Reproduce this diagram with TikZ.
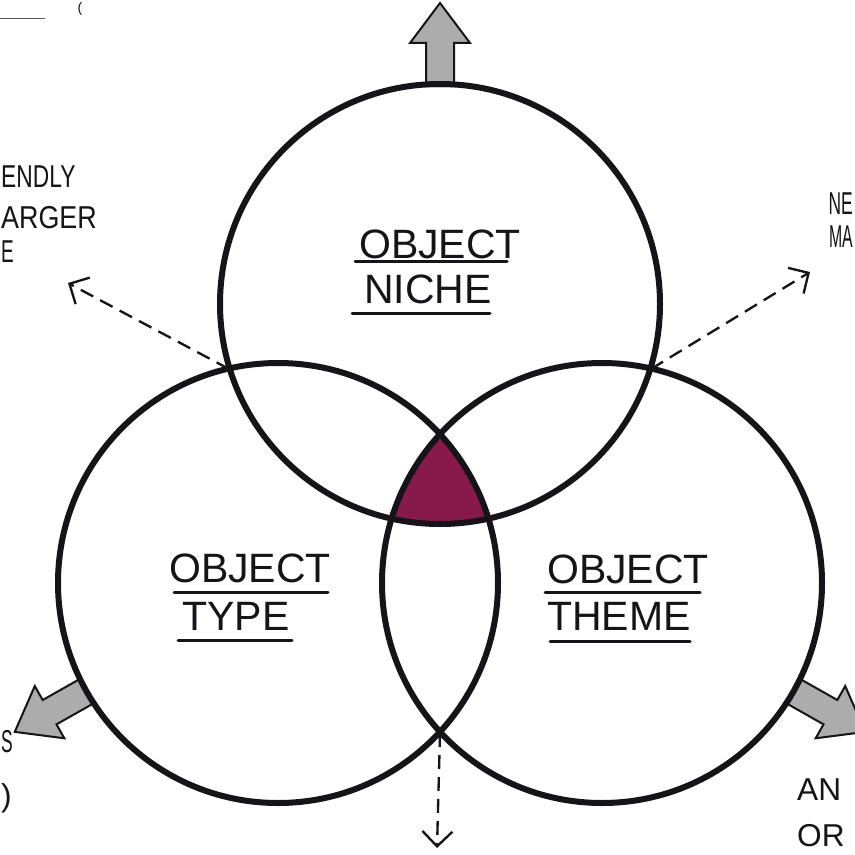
\documentclass[tikz,border=0pt]{standalone}
\usepackage{fontspec}
\setmainfont{Liberation Sans}
\usetikzlibrary{arrows.meta}
\definecolor{core}{RGB}{135,25,75}
\definecolor{arrowgray}{RGB}{172,172,172}
\definecolor{ink}{RGB}{20,20,25}
\begin{document}
\begin{tikzpicture}[x=0.3mm, y=-0.3mm,
  ring/.style={circle, draw=ink, line width=1.8mm, minimum size=132mm, inner sep=0pt, outer sep=0pt},
  lbl/.style={font=\fontsize{35}{40}\selectfont, anchor=base, inner sep=0pt, text=ink},
  frag/.style={font=\fontsize{27}{30}\selectfont, inner sep=0pt, text=ink},
  uline/.style={draw=ink, line width=0.9mm, line cap=round},
  dasharrow/.style={draw=ink, line width=0.7mm, dash pattern=on 4.2mm off 2.4mm,
    -{Straight Barb[length=4.5mm, width=9mm, line width=0.7mm]}},
  blockarrow/.pic={\draw[line width=0.6mm, draw=ink, fill=arrowgray, line join=miter]
    (0,-14) -- (43,-14) -- (43,-30) -- (83,0) -- (43,30) -- (43,14) -- (0,14) -- cycle;}
]
\path[use as bounding box, fill=white] (0,0) rectangle (855,854);
\clip (0,0) rectangle (855,854);

% block arrows (drawn first, circles overlay their bases)
\pic[rotate=90] at (440,86) {blockarrow};
\pic[rotate=209.5] at (87,691) {blockarrow};
\pic[rotate=-29.5] at (793,691) {blockarrow};

% core intersection
\begin{scope}
  \clip (440,304) circle[radius=66mm];
  \clip (278,583) circle[radius=66mm];
  \fill[core] (602,583) circle[radius=66mm];
\end{scope}

% circles
\node[ring] (niche) at (440,304) {};
\node[ring] (type) at (278,583) {};
\node[ring] (theme) at (602,583) {};

% intersection points and dashed arrows
\coordinate (tl) at (229,369);
\coordinate (tlend) at (68,283);
\coordinate (tr) at (651,369);
\coordinate (trend) at (810,272);
\coordinate (bt) at (440,733);
\coordinate (btend) at (437,848);
\draw[dasharrow] (tl) -- (tlend);
\draw[dasharrow] (tr) -- (trend);
\draw[dasharrow] (bt) -- (btend);

% labels
\node[lbl] (n1) at (440,258) {OBJECT};
\node[lbl] (n2) at (428,303) {NICHE};
\draw[uline] (355,261) -- (507,261);
\draw[uline] (352,313) -- (490,313);

\node[lbl] (t1) at (250,582) {OBJECT};
\node[lbl] (t2) at (236,630) {TYPE};
\draw[uline] (174,592) -- (328,592);
\draw[uline] (178,640) -- (292,640);

\node[lbl] (h1) at (628,583) {OBJECT};
\node[lbl] (h2) at (619,630) {THEME};
\draw[uline] (545,592) -- (700,592);
\draw[uline] (550,641) -- (690,641);

% text fragments near the edges
\node[frag, anchor=base west] (f1) at (1,187) {\scalebox{0.72}[1]{ENDLY}};
\node[frag, anchor=base west] (f2) at (1,228) {\scalebox{0.85}[1]{ARGER}};
\node[frag, anchor=base west] (f3) at (1,262) {\scalebox{0.6}[1]{E}};
\node[frag, anchor=base east] (f4) at (853,214) {\scalebox{0.55}[1]{NE}};
\node[frag, anchor=base east] (f5) at (853,247) {\scalebox{0.5}[1]{MA}};
\node[frag, anchor=base west] (f6) at (797,800) {AN};
\node[frag, anchor=base west] (f7) at (797,846) {OR};
\node[frag, anchor=base west] (f8) at (1,752) {\scalebox{0.55}[1]{S}};
\node[frag, anchor=base west] (f9) at (1,806) {)};
\node[font=\fontsize{12}{12}\selectfont, inner sep=0pt, text=ink, anchor=north] (f10) at (80,2) {(};
\draw[draw=ink!70, line width=0.3mm] (0,19) -- (45,19);
\end{tikzpicture}
\end{document}
